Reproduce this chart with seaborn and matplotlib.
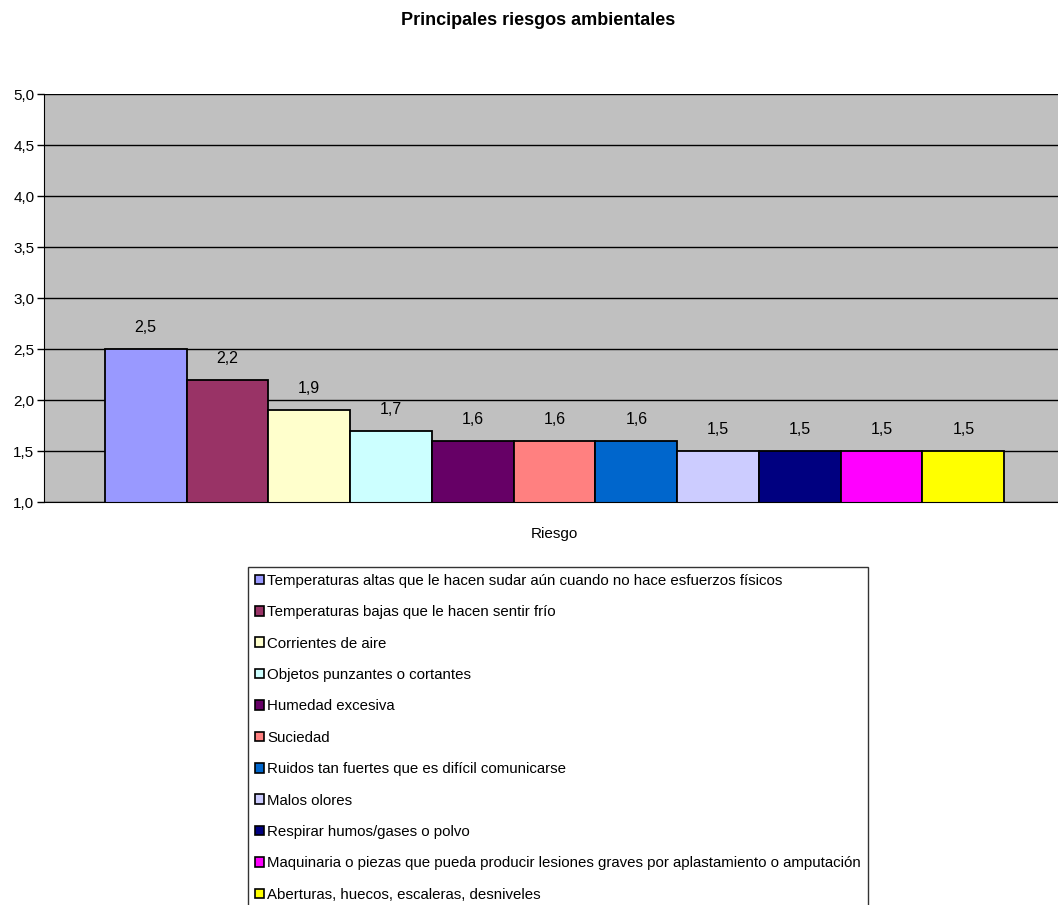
import pandas as pd
import matplotlib
matplotlib.use("Agg")
import matplotlib.pyplot as plt
import seaborn as sns
from matplotlib.ticker import FuncFormatter

riesgos = [
    "Temperaturas altas que le hacen sudar aún cuando no hace esfuerzos físicos",
    "Temperaturas bajas que le hacen sentir frío",
    "Corrientes de aire",
    "Objetos punzantes o cortantes",
    "Humedad excesiva",
    "Suciedad",
    "Ruidos tan fuertes que es difícil comunicarse",
    "Malos olores",
    "Respirar humos/gases o polvo",
    "Maquinaria o piezas que pueda producir lesiones graves por aplastamiento o amputación",
    "Aberturas, huecos, escaleras, desniveles",
]
valores = [2.5, 2.2, 1.9, 1.7, 1.6, 1.6, 1.6, 1.5, 1.5, 1.5, 1.5]
colores = ["#9999FF", "#993366", "#FFFFCC", "#CCFFFF", "#660066", "#FF8080",
           "#0066CC", "#CCCCFF", "#000080", "#FF00FF", "#FFFF00"]

sns.set_style("white")
plt.rcParams['font.family'] = ['Liberation Sans', 'DejaVu Sans']
plt.rcParams['text.color'] = "black"
plt.rcParams['xtick.color'] = "black"
plt.rcParams['ytick.color'] = "black"
fs = 11

data = pd.DataFrame({"Categoria": ["Riesgo"] * len(riesgos),
                     "Riesgo": riesgos, "Valor": valores})

fig = plt.figure(figsize=(10.58, 9.05), dpi=100)
ax = fig.add_axes([0.0416, 0.4453, 0.9584, 0.4508])
ax.set_facecolor("#C0C0C0")

sns.barplot(data=data, x="Categoria", y="Valor", hue="Riesgo",
            palette=colores, saturation=1, width=0.887, dodge=True, ax=ax,
            edgecolor="black", linewidth=1.3, legend=False)

ax.set_ylim(1.0, 5.0)
ax.set_xlim(-0.5035, 0.4965)
ax.set_yticks([1.0, 1.5, 2.0, 2.5, 3.0, 3.5, 4.0, 4.5, 5.0])
ax.yaxis.set_major_formatter(FuncFormatter(lambda v, p: f"{v:.1f}".replace(".", ",")))
ax.yaxis.grid(True, color="black", linewidth=1.0)
ax.set_axisbelow(True)
ax.tick_params(axis="y", direction="out", length=5, width=1, color="black",
               labelsize=fs, pad=2, left=True)
ax.tick_params(axis="x", length=0, labelsize=fs, pad=18)
ax.set_xlabel("")
ax.set_ylabel("")
for s in ["top", "right"]:
    ax.spines[s].set_visible(False)
ax.spines["left"].set_color("black")
ax.spines["bottom"].set_color("black")

for cont in ax.containers:
    ax.bar_label(cont, labels=[f"{v:.1f}".replace(".", ",") for v in cont.datavalues],
                 padding=10, fontsize=fs + 0.5)

fig.text(0.509, 0.977, "Principales riesgos ambientales", ha="center", va="center",
         fontsize=13, fontweight="bold")

handles = [plt.Rectangle((0, 0), 1, 1, facecolor=c, edgecolor="black", linewidth=1.2)
           for c in colores]
leg = fig.legend(handles, riesgos, loc="upper left", bbox_to_anchor=(0.2344, 0.3735),
                 fontsize=10.8, frameon=True, fancybox=False, edgecolor="black",
                 handlelength=0.6, handleheight=0.6, handletextpad=0.25,
                 labelspacing=1.16, borderpad=0.45, borderaxespad=0)
leg.get_frame().set_linewidth(1.0)

fig.savefig("out.png", dpi=100)
